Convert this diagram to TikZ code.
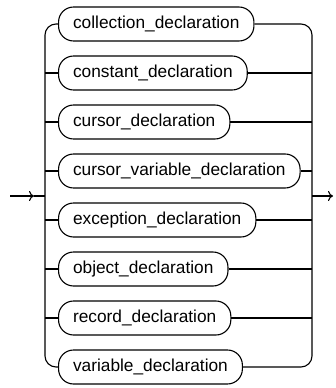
\documentclass[tikz,border=0pt]{standalone}
\usepackage{fontspec}
\setmainfont{Liberation Sans}
\usetikzlibrary{shapes.misc, arrows.meta, positioning}
\tikzstyle{decl} = [rectangle, rounded corners=15pt, draw, line width=1.1pt, minimum height=34pt, inner xsep=14.5pt, text height=12.5pt, text depth=3.5pt, font=\fontsize{17.3}{20}\selectfont]
\tikzstyle{rail} = [line width=1.1pt, rounded corners=11pt]
\tikzstyle{flow} = [line width=1.1pt, -{To[length=5pt,width=10pt]}]

\begin{document}
\begin{tikzpicture}[x=1pt, y=1pt, node distance = 13.9pt]
  \useasboundingbox (0,0) rectangle (335,-388);
  \node (coll) [decl, anchor=west] at (58,-24) {collection\_declaration};
  \node (const) [decl, below= of coll.south west, anchor=north west] {constant\_declaration};
  \node (curs) [decl, below= of const.south west, anchor=north west] {cursor\_declaration};
  \node (cvar) [decl, below= of curs.south west, anchor=north west] {cursor\_variable\_declaration};
  \node (exc) [decl, below= of cvar.south west, anchor=north west] {exception\_declaration};
  \node (obj) [decl, below= of exc.south west, anchor=north west] {object\_declaration};
  \node (rec) [decl, below= of obj.south west, anchor=north west] {record\_declaration};
  \node (var) [decl, below= of rec.south west, anchor=north west] {variable\_declaration};
  % entry and exit
  \coordinate (in) at (10,-196);
  \coordinate (tip) at (34,-196);
  \coordinate (lj) at (45,-196);
  \coordinate (rj) at (312,-196);
  \coordinate (out) at (333,-196);
  \draw [flow] (in) -- (tip);
  \draw [rail] (tip) -- (lj);
  \draw [flow] (rj) -- (out);
  % left and right rails
  \draw [rail] (coll.west) -| (lj) |- (var.west);
  \draw [rail] (coll.east) -| (rj) |- (var.east);
  \foreach \n in {const, curs, cvar, exc, obj, rec} {
    \draw [rail] (lj |- \n.west) -- (\n.west);
    \draw [rail] (\n.east) -- (rj |- \n.east);
  }
\end{tikzpicture}
\end{document}
